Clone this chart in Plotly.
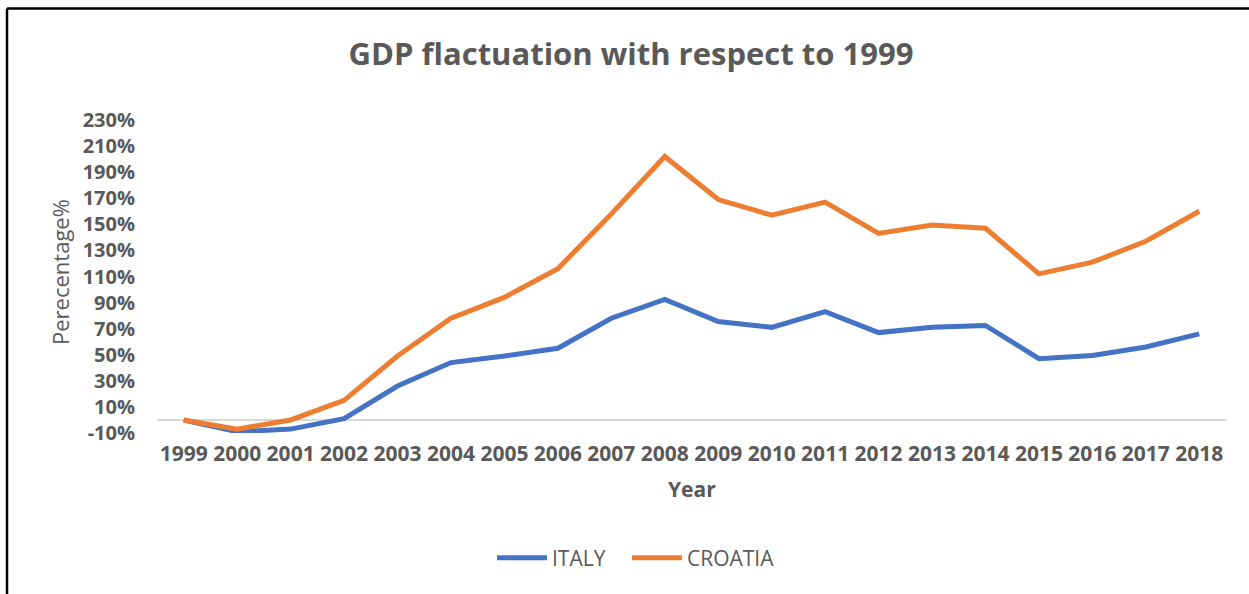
import plotly.graph_objects as go

years = [str(y) for y in range(1999, 2019)]
italy = [0, -9, -7, 1, 26, 44, 49, 55, 78, 92.5, 75.5, 71, 83, 67, 71, 72.5, 47, 49.5, 56, 66]
croatia = [0, -7, 0, 15, 49, 78, 94, 116, 158, 202, 169, 157, 167, 143, 149.5, 147, 112, 121, 137, 160]
y_ticks = list(range(-10, 231, 20))

TEXT = "#595959"
FONT = "Open Sans"

W, H = 1249, 594
L, R, T, B = 157, 23, 120, 161
pw, ph = W - L - R, H - T - B


def px_x(px):
    return (px - L) / pw


def px_y(py):
    return (H - B - py) / ph


def legend_box(left_px):
    return dict(orientation="h", x=px_x(left_px), xanchor="left",
                y=px_y(558), yanchor="middle",
                font=dict(size=21, color=TEXT, family=FONT),
                itemwidth=50, bgcolor="rgba(0,0,0,0)")


fig = go.Figure()
fig.add_trace(go.Scatter(x=years, y=italy, name="ITALY", mode="lines",
                         line=dict(color="#4472C4", width=5), legend="legend"))
fig.add_trace(go.Scatter(x=years, y=croatia, name="CROATIA", mode="lines",
                         line=dict(color="#ED7D31", width=5), legend="legend2"))

fig.update_layout(
    width=W, height=H,
    margin=dict(l=L, r=R, t=T, b=B),
    paper_bgcolor="white", plot_bgcolor="white",
    font=dict(family=FONT, color=TEXT),
    title=dict(text="<b>GDP flactuation with respect to 1999</b>",
               x=px_x(631), xref="paper", xanchor="center",
               y=1 - 54 / H, yref="container", yanchor="middle",
               font=dict(size=31, color=TEXT, family=FONT)),
    showlegend=True,
    legend=legend_box(492),
    legend2=legend_box(627),
    xaxis=dict(type="category", range=[-0.5, 19.5], showgrid=False,
               showline=False, zeroline=False, ticks="",
               tickfont=dict(size=21, color=TEXT, family=FONT),
               ticklabelstandoff=6, tickprefix="<b>", ticksuffix="</b>"),
    yaxis=dict(range=[-10, 230], tickvals=y_ticks,
               ticktext=[f"<b>{v}%</b>" for v in y_ticks],
               showgrid=False, showline=False, ticks="",
               zeroline=True, zerolinecolor="#d9d9d9", zerolinewidth=2,
               tickfont=dict(size=20, color=TEXT, family=FONT),
               ticklabelstandoff=21),
    annotations=[
        dict(text="<b>Year</b>", xref="paper", yref="paper",
             x=0.5, y=px_y(489), xanchor="center", yanchor="middle",
             showarrow=False, font=dict(size=21, color=TEXT, family=FONT)),
        dict(text="Perecentage%", xref="paper", yref="paper",
             x=px_x(60), y=px_y(272), xanchor="center", yanchor="middle",
             textangle=-90, showarrow=False,
             font=dict(size=22, color=TEXT, family=FONT)),
    ],
    shapes=[
        dict(type="line", xref="paper", yref="paper",
             x0=px_x(7), x1=px_x(1260), y0=px_y(8.5), y1=px_y(8.5),
             line=dict(color="black", width=2.5)),
        dict(type="line", xref="paper", yref="paper",
             x0=px_x(7), x1=px_x(7), y0=px_y(8.5), y1=px_y(600),
             line=dict(color="black", width=2.5)),
    ],
)

fig.write_html("out.html")
